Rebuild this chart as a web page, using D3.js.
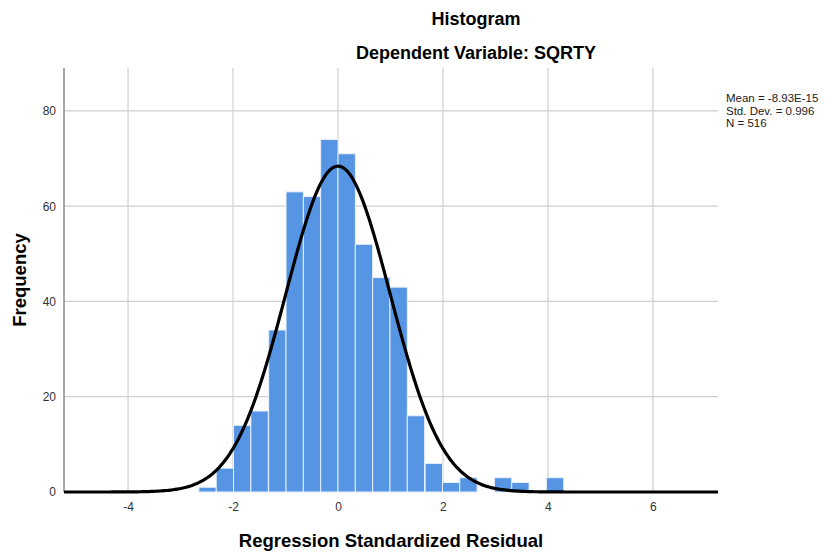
<!DOCTYPE html>
<html>
<head>
<meta charset="utf-8">
<script src="https://cdn.jsdelivr.net/npm/d3@7"></script>
<style>
  body { margin: 0; background: #fff; }
  svg text { font-family: "Liberation Sans", Arial, sans-serif; }
</style>
</head>
<body>
<div id="chart"></div>
<script>
// bin lower edges (regression standardized residual) and counts
const binStarts = [-2.65, -2.32, -1.99, -1.66, -1.32, -0.99, -0.66, -0.33, 0.00, 0.33, 0.66,
                   0.99, 1.32, 1.66, 1.99, 2.32, 2.65, 2.98, 3.31, 3.64, 3.97];
const counts = [1, 5, 14, 17, 34, 63, 62, 74, 71, 52, 45, 43, 16, 6, 2, 3, 0, 3, 2, 0, 3];
const binWidth = 0.331;
const xTicks = [-4, -2, 0, 2, 4, 6];
const yTicks = [0, 20, 40, 60, 80];
const stats = { mean: -8.93e-15, sd: 0.996, n: 516 };
const statLines = ["Mean = -8.93E-15", "Std. Dev. = 0.996", "N = 516"];

const width = 827, height = 554;
const margin = { top: 68, right: 109, bottom: 62, left: 64 };
const w = width - margin.left - margin.right;
const h = height - margin.top - margin.bottom;

const svg = d3.select("#chart").append("svg")
    .attr("width", width)
    .attr("height", height);

const g = svg.append("g")
    .attr("transform", "translate(" + margin.left + "," + margin.top + ")");

const x = d3.scaleLinear().domain([-5.22, 7.24]).range([0, w]);
const y = d3.scaleLinear().domain([0, 89]).range([h, 0]);

// grid
g.append("g").selectAll("line").data(yTicks.slice(1)).join("line")
    .attr("x1", 0).attr("x2", w)
    .attr("y1", d => y(d)).attr("y2", d => y(d))
    .attr("stroke", "#cfcfcf").attr("stroke-width", 1.2);
g.append("g").selectAll("line").data(xTicks).join("line")
    .attr("x1", d => x(d)).attr("x2", d => x(d))
    .attr("y1", 0).attr("y2", h)
    .attr("stroke", "#cfcfcf").attr("stroke-width", 1.2);

// bars
g.append("g").selectAll("rect").data(binStarts).join("rect")
    .attr("x", d => x(d))
    .attr("width", x(binWidth) - x(0))
    .attr("y", (d, i) => y(counts[i]))
    .attr("height", (d, i) => y(0) - y(counts[i]))
    .attr("fill", "#5694e4")
    .attr("stroke", "#e8f0fb")
    .attr("stroke-width", 1)
    .attr("display", (d, i) => counts[i] > 0 ? null : "none");

// axes
const xAxis = g.append("g")
    .attr("transform", "translate(0," + h + ")")
    .call(d3.axisBottom(x).tickValues(xTicks).tickSize(0).tickPadding(10).tickFormat(d => String(d)));
xAxis.select(".domain").remove();
xAxis.selectAll("text").attr("font-size", 12).attr("fill", "#333");

const yAxis = g.append("g")
    .call(d3.axisLeft(y).tickValues(yTicks).tickSize(0).tickPadding(8).tickFormat(d => String(d)));
yAxis.select(".domain").remove();
yAxis.selectAll("text").attr("font-size", 12).attr("fill", "#333");

g.append("line")
    .attr("x1", 0).attr("x2", 0).attr("y1", 0).attr("y2", h)
    .attr("stroke", "#8a8a8a").attr("stroke-width", 1.5);

// normal curve
const scale = stats.n * binWidth / (stats.sd * Math.sqrt(2 * Math.PI));
const curveX = d3.range(0, 301).map(i => x.domain()[0] + i * (x.domain()[1] - x.domain()[0]) / 300);
const line = d3.line()
    .x(d => x(d))
    .y(d => y(scale * Math.exp(-0.5 * Math.pow((d - stats.mean) / stats.sd, 2))));
g.append("path")
    .datum(curveX)
    .attr("d", line)
    .attr("fill", "none")
    .attr("stroke", "#000")
    .attr("stroke-width", 3.2);

// titles
svg.append("text").attr("x", 476).attr("y", 25)
    .attr("text-anchor", "middle").attr("font-size", 18).attr("font-weight", "bold")
    .text("Histogram");
svg.append("text").attr("x", 476).attr("y", 59)
    .attr("text-anchor", "middle").attr("font-size", 18).attr("font-weight", "bold")
    .text("Dependent Variable: SQRTY");

svg.append("text")
    .attr("transform", "translate(26," + (margin.top + h / 2) + ") rotate(-90)")
    .attr("text-anchor", "middle").attr("font-size", 18.5).attr("font-weight", "bold")
    .text("Frequency");
svg.append("text").attr("x", margin.left + w / 2).attr("y", 547)
    .attr("text-anchor", "middle").attr("font-size", 18.5).attr("font-weight", "bold")
    .text("Regression Standardized Residual");

// stats box
svg.append("g").selectAll("text").data(statLines).join("text")
    .attr("x", 726).attr("y", (d, i) => 102 + i * 12.5)
    .attr("font-size", 11.5).attr("fill", "#222")
    .text(d => d);
</script>
</body>
</html>
